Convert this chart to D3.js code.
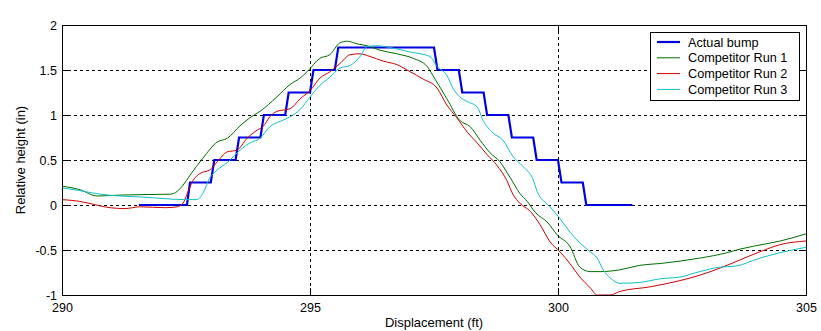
<!DOCTYPE html>
<html>
<head>
<meta charset="utf-8">
<script src="https://cdn.jsdelivr.net/npm/d3@7"></script>
<style>
  body { margin: 0; background: #fff; }
  text { font-family: Arial, "Liberation Sans", sans-serif; }
</style>
</head>
<body>
<svg width="821" height="331"></svg>
<script>
// actual bump (ft, in)
var bumpX = [291.55, 292.52, 292.58, 293.0, 293.07, 293.5, 293.57, 294.0, 294.07, 294.5, 294.57,
             295.0, 295.07, 295.5, 295.57, 297.5, 297.57, 298.0, 298.07, 298.5, 298.57, 299.0,
             299.07, 299.5, 299.57, 300.0, 300.07, 300.5, 300.57, 301.5];
var bumpY = [0, 0, 0.25, 0.25, 0.5, 0.5, 0.75, 0.75, 1, 1, 1.25,
             1.25, 1.5, 1.5, 1.75, 1.75, 1.5, 1.5, 1.25, 1.25, 1, 1,
             0.75, 0.75, 0.5, 0.5, 0.25, 0.25, 0, 0];

var run1X = [290, 290.36, 290.71, 291.17, 291.57, 292.18, 292.32, 292.44, 292.58, 292.84, 293.13,
             293.33, 293.59, 293.79, 293.99, 294.33, 294.6, 294.8, 294.94, 295.2, 295.4, 295.6,
             295.75, 295.95, 296.15, 296.41, 296.75, 297.08, 297.36, 297.52, 297.76, 298.02, 298.23,
             298.43, 298.63, 298.83, 299.03, 299.23, 299.38, 299.54, 299.8, 299.98, 300.24, 300.44,
             300.65, 300.85, 301.25, 301.65, 302.06, 302.86, 303.41, 303.67, 304.21, 304.48, 305];
var run1Y = [0.21, 0.17, 0.10, 0.11, 0.115, 0.12, 0.15, 0.22, 0.33, 0.52, 0.70,
             0.74, 0.88, 0.97, 1.04, 1.20, 1.34, 1.41, 1.48, 1.63, 1.67, 1.80,
             1.82, 1.79, 1.77, 1.72, 1.68, 1.63, 1.54, 1.40, 1.18, 0.94, 0.87,
             0.72, 0.58, 0.48, 0.31, 0.13, 0.04, -0.08, -0.20, -0.33, -0.46, -0.69,
             -0.74, -0.74, -0.72, -0.67, -0.65, -0.59, -0.53, -0.49, -0.43, -0.40, -0.32];

var run2X = [290, 290.36, 290.77, 290.97, 291.27, 291.57, 292.08, 292.32, 292.44, 292.52, 292.64,
             292.78, 292.98, 293.13, 293.33, 293.53, 293.73, 293.93, 294.05, 294.19, 294.33, 294.6,
             294.8, 295.0, 295.2, 295.4, 295.6, 295.81, 296.01, 296.21, 296.47, 296.75, 297.02,
             297.28, 297.56, 297.76, 297.96, 298.17, 298.37, 298.57, 298.77, 298.97, 299.09, 299.23,
             299.44, 299.64, 299.84, 300.04, 300.24, 300.44, 300.65, 300.79, 301.05, 301.25, 301.85,
             302.46, 302.86, 303.27, 303.67, 304.07, 304.48, 305];
var run2Y = [0.06, 0.04, -0.01, -0.03, -0.04, -0.02, -0.03, -0.02, 0.02, 0.12, 0.27,
             0.35, 0.39, 0.48, 0.59, 0.61, 0.74, 0.83, 0.87, 0.98, 1.04, 1.07,
             1.18, 1.27, 1.41, 1.48, 1.57, 1.67, 1.68, 1.65, 1.60, 1.56, 1.48,
             1.40, 1.30, 1.11, 0.97, 0.81, 0.69, 0.56, 0.44, 0.27, 0.12, 0.02,
             -0.07, -0.22, -0.41, -0.52, -0.65, -0.80, -0.92, -1.0, -1.0, -0.96, -0.91,
             -0.84, -0.78, -0.70, -0.61, -0.52, -0.44, -0.40];

var run3X = [290, 290.36, 290.77, 291.17, 291.57, 292.08, 292.44, 292.72, 292.84, 292.98, 293.13,
             293.33, 293.59, 293.79, 293.99, 294.19, 294.4, 294.6, 294.8, 295.0, 295.2, 295.4,
             295.6, 295.81, 296.01, 296.15, 296.35, 296.61, 297.02, 297.42, 297.56, 297.76, 297.88,
             298.02, 298.17, 298.37, 298.49, 298.69, 298.89, 299.09, 299.29, 299.5, 299.58, 299.84,
             300.04, 300.24, 300.44, 300.65, 300.79, 300.91, 301.05, 301.25, 301.65, 302.06, 302.46,
             302.86, 303.27, 303.57, 304.07, 304.48, 305];
var run3Y = [0.19, 0.16, 0.12, 0.10, 0.09, 0.07, 0.06, 0.06, 0.13, 0.30, 0.39,
             0.47, 0.61, 0.69, 0.74, 0.87, 0.93, 0.98, 1.06, 1.20, 1.33, 1.42,
             1.52, 1.55, 1.65, 1.76, 1.77, 1.75, 1.70, 1.65, 1.54, 1.44, 1.30,
             1.20, 1.15, 1.09, 0.94, 0.80, 0.72, 0.54, 0.43, 0.28, 0.15, -0.02,
             -0.15, -0.30, -0.42, -0.52, -0.59, -0.72, -0.81, -0.87, -0.86, -0.82, -0.80,
             -0.74, -0.69, -0.68, -0.59, -0.53, -0.47];

var xTicks = [290, 295, 300, 305];
var yTicks = [-1, -0.5, 0, 0.5, 1, 1.5, 2];
var legendLabels = ["Actual bump", "Competitor Run 1", "Competitor Run 2", "Competitor Run 3"];

var svg = d3.select("svg"),
    margin = {top: 25, right: 15, bottom: 36, left: 62},
    width = +svg.attr("width") - margin.left - margin.right,
    height = +svg.attr("height") - margin.top - margin.bottom,
    g = svg.append("g").attr("transform", "translate(" + margin.left + "," + margin.top + ")");

var x = d3.scaleLinear().domain([290, 305]).range([0, width]);
var y = d3.scaleLinear().domain([-1, 2]).range([height, 0]);

function zip(xs, ys) {
  return xs.map(function(v, i) { return [v, ys[i]]; });
}

var series = [
  {pts: zip(bumpX, bumpY), color: "#0000e0", w: 2.2, curve: d3.curveLinear},
  {pts: zip(run1X, run1Y), color: "#006e00", w: 1, curve: d3.curveMonotoneX},
  {pts: zip(run2X, run2Y), color: "#d00000", w: 1, curve: d3.curveMonotoneX},
  {pts: zip(run3X, run3Y), color: "#10c0c8", w: 1, curve: d3.curveMonotoneX}
];

// grid
g.append("g")
    .selectAll("line")
    .data(yTicks.slice(1, -1))
  .enter().append("line")
    .attr("x1", 0).attr("x2", width)
    .attr("y1", function(d) { return Math.round(y(d)) + 0.5; })
    .attr("y2", function(d) { return Math.round(y(d)) + 0.5; })
    .attr("stroke", "#000")
    .attr("stroke-dasharray", "3,3");

g.append("g")
    .selectAll("line")
    .data(xTicks.slice(1, -1))
  .enter().append("line")
    .attr("y1", 0).attr("y2", height)
    .attr("x1", function(d) { return Math.round(x(d)) + 0.5; })
    .attr("x2", function(d) { return Math.round(x(d)) + 0.5; })
    .attr("stroke", "#000")
    .attr("stroke-dasharray", "3,3");

// axes, ticks inward
var fmt = function(d) { return String(d); };

g.append("g")
    .attr("transform", "translate(0," + height + ")")
    .call(d3.axisBottom(x).tickValues(xTicks).tickSizeInner(-7).tickSizeOuter(0).tickPadding(8).tickFormat(fmt));

g.append("g")
    .call(d3.axisLeft(y).tickValues(yTicks).tickSizeInner(-7).tickSizeOuter(0).tickPadding(5).tickFormat(fmt));

g.append("g")
    .call(d3.axisTop(x).tickValues(xTicks).tickSizeInner(-7).tickSizeOuter(0).tickFormat(""));

g.append("g")
    .attr("transform", "translate(" + width + ",0)")
    .call(d3.axisRight(y).tickValues(yTicks).tickSizeInner(-7).tickSizeOuter(0).tickFormat(""));

g.selectAll(".tick text")
    .attr("fill", "#000")
    .style("font-size", "12.5px")
    .style("font-family", "Arial, 'Liberation Sans', sans-serif");
g.selectAll(".domain").attr("stroke", "none");

// data lines
svg.append("clipPath").attr("id", "clip")
  .append("rect").attr("width", width).attr("height", height + 1);

var plot = g.append("g").attr("clip-path", "url(#clip)");

series.forEach(function(s) {
  plot.append("path")
      .datum(s.pts)
      .attr("fill", "none")
      .attr("stroke", s.color)
      .attr("stroke-width", s.w)
      .attr("d", d3.line().curve(s.curve)
          .x(function(d) { return x(d[0]); })
          .y(function(d) { return y(d[1]); }));
});

// box
g.append("rect")
    .attr("x", 0.5).attr("y", 0.5)
    .attr("width", width).attr("height", height)
    .attr("fill", "none")
    .attr("stroke", "#000");

// axis labels
g.append("text")
    .attr("x", width / 2)
    .attr("y", height + 32)
    .attr("text-anchor", "middle")
    .style("font-size", "13px")
    .text("Displacement (ft)");

g.append("text")
    .attr("transform", "rotate(-90)")
    .attr("x", -height / 2)
    .attr("y", -37)
    .attr("text-anchor", "middle")
    .style("font-size", "13px")
    .text("Relative height (in)");

// legend
var lg = svg.append("g").attr("transform", "translate(650,32)");
lg.append("rect")
    .attr("x", 0.5).attr("y", 0.5)
    .attr("width", 149).attr("height", 68)
    .attr("fill", "#fff")
    .attr("stroke", "#000");

legendLabels.forEach(function(name, i) {
  var yy = 10 + i * 15.8;
  lg.append("line")
      .attr("x1", 7).attr("x2", 30)
      .attr("y1", yy).attr("y2", yy)
      .attr("stroke", series[i].color)
      .attr("stroke-width", series[i].w);
  lg.append("text")
      .attr("x", 38)
      .attr("y", yy)
      .attr("dy", "0.36em")
      .style("font-size", "12.7px")
      .text(name);
});
</script>
</body>
</html>
